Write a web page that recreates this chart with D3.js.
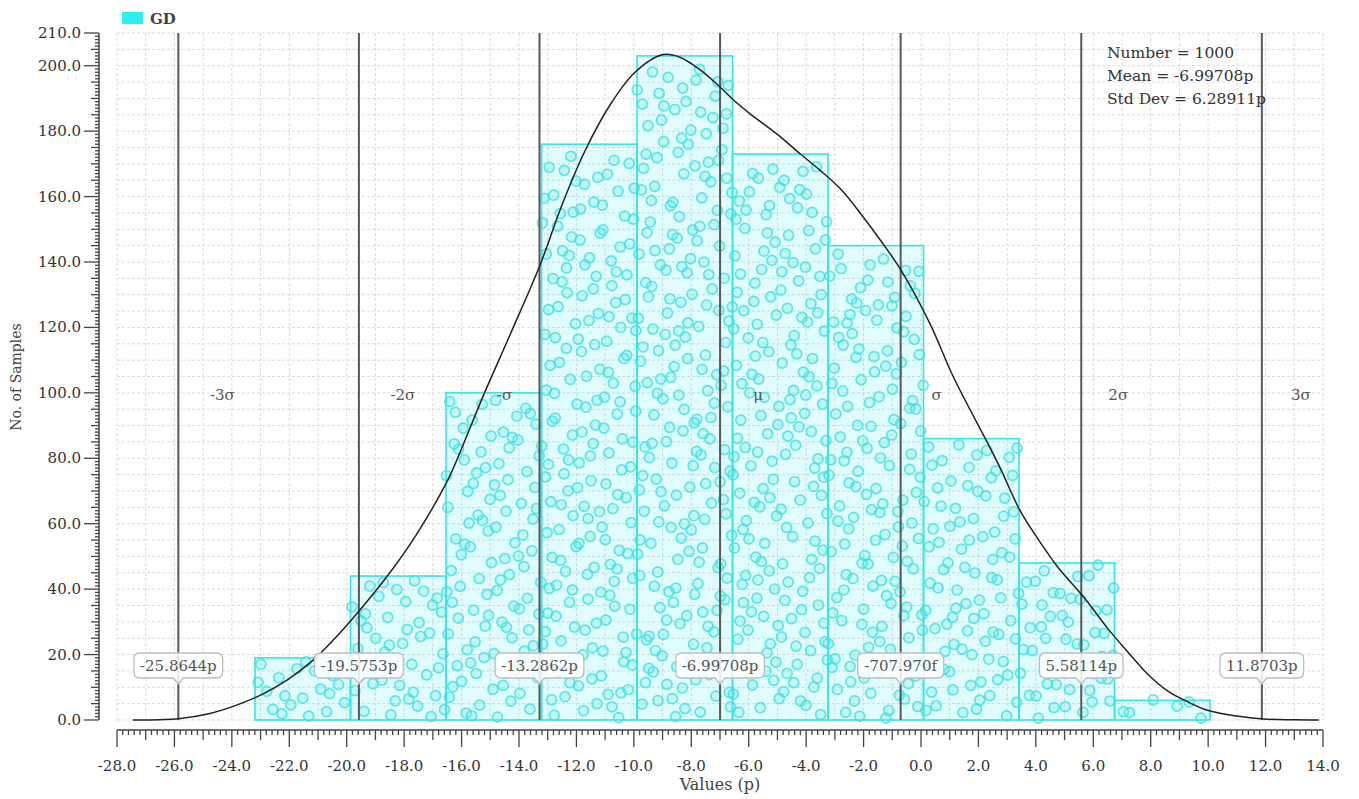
<!DOCTYPE html>
<html><head><meta charset="utf-8">
<script src="https://cdn.jsdelivr.net/npm/d3@7"></script>
<style>
body{margin:0;background:#fff}
svg{display:block}
text{font-family:"DejaVu Serif",serif}
</style>
</head><body>
<svg id="chart" width="1359" height="799"></svg>
<script>
// ---------- data ----------
const seriesName = "GD";
const binEdges = [-23.194, -19.868, -16.542, -13.216, -9.890, -6.564, -3.238, 0.088, 3.414, 6.740, 10.066];
const binCounts = [19, 44, 100, 176, 203, 173, 145, 86, 48, 6];
const curveX = [-27.45,-26.5,-25.86,-24.76,-24,-23,-22.08,-21.17,-20.3,-19.54,-18.5,-17.55,-16.5,-15.95,-15.25,-14.3,-13.27,-12.5,-11.7,-10.83,-9.96,-8.98,-8.4,-7.7,-7.0,-6.5,-5.95,-5.0,-4.2,-3.51,-2.8,-2.12,-1.4,-0.66,0.32,1.12,2.3,2.76,3.45,4.1,4.74,5.72,6.5,7.18,7.9,8.57,9.3,9.97,11,11.92,13,13.85];
const curveY = [0,0.1,0.4,2,4,7.6,12.2,18.3,26,33.6,45,57,73,84,99,118,139,157.5,174,188,198,203.4,202.6,198.8,193.5,189.3,185.3,179,173,168,162.3,155,146.5,137,121,105,85,77,64,55,47,37,28,21,14,9,5.5,3,1.2,0.3,0.05,0];
const markerValues = [-25.8644, -19.5753, -13.2862, -6.99708, -0.70797, 5.58114, 11.8703];
const markerLabels = ["-25.8644p", "-19.5753p", "-13.2862p", "-6.99708p", "-707.970f", "5.58114p", "11.8703p"];
const sigmaLabels = ["-3\u03c3", "-2\u03c3", "-\u03c3", "\u03bc", "\u03c3", "2\u03c3", "3\u03c3"];
const xTickValues = [-28,-26,-24,-22,-20,-18,-16,-14,-12,-10,-8,-6,-4,-2,0,2,4,6,8,10,12,14];
const yTickValues = [0,20,40,60,80,100,120,140,160,180,200,210];
const statsLines = ["Number = 1000", "Mean = -6.99708p", "Std Dev = 6.28911p"];
const xTitle = "Values (p)";
const yTitle = "No. of Samples";

// ---------- layout ----------
const svg = d3.select("#chart");
const X0 = 117, X1 = 1323, Y0 = 720, Y1 = 33;
const x = d3.scaleLinear().domain([-28, 14]).range([X0, X1]);
const y = d3.scaleLinear().domain([0, 210]).range([Y0, Y1]);
const fmt = v => v.toFixed(1);

// grid
const grid = svg.append("g").attr("stroke", "#dcdcdc").attr("stroke-width", 1).attr("stroke-dasharray", "3,2");
d3.range(-28, 14.001, 1).forEach(v => {
  grid.append("line").attr("x1", x(v)).attr("x2", x(v)).attr("y1", Y1).attr("y2", Y0);
});
d3.range(0, 210.001, 5).forEach(v => {
  grid.append("line").attr("x1", X0).attr("x2", X1).attr("y1", y(v)).attr("y2", y(v));
});

// bars
const bins = binCounts.map((c, i) => ({x0: binEdges[i], x1: binEdges[i + 1], c}));
svg.append("g").selectAll("rect").data(bins).join("rect")
  .attr("x", d => x(d.x0)).attr("width", d => x(d.x1) - x(d.x0))
  .attr("y", d => y(d.c)).attr("height", d => y(0) - y(d.c))
  .attr("fill", "rgba(0,230,230,0.12)")
  .attr("stroke", "#38e4e4").attr("stroke-width", 1.6);

// sample dots (deterministic Halton placement inside each bin)
function halton(i, b) { let f = 1, r = 0; while (i > 0) { f /= b; r += f * (i % b); i = Math.floor(i / b); } return r; }
const dots = [];
let idx = 1;
bins.forEach(d => {
  for (let j = 0; j < d.c; j++, idx++) {
    const u = halton(idx, 2), w = halton(idx, 3);
    dots.push({vx: d.x0 + u * (d.x1 - d.x0), vy: w * d.c * 0.98 + 0.5});
  }
});
svg.append("g").selectAll("circle").data(dots).join("circle")
  .attr("cx", d => x(d.vx)).attr("cy", d => y(d.vy)).attr("r", 5)
  .attr("fill", "rgba(80,230,230,0.22)")
  .attr("stroke", "#3ee0e0").attr("stroke-width", 1.7).attr("stroke-opacity", 0.8);

// sigma lines
svg.append("g").selectAll("line").data(markerValues).join("line")
  .attr("x1", d => x(d)).attr("x2", d => x(d)).attr("y1", Y1).attr("y2", Y0)
  .attr("stroke", "#585858").attr("stroke-width", 2);

// sigma labels
const labelDx = [44, 44, -35, 38, 36, 37, 39];
svg.append("g").selectAll("text").data(sigmaLabels).join("text")
  .attr("x", (d, i) => x(markerValues[i]) + labelDx[i]).attr("y", 400)
  .attr("text-anchor", "middle").attr("font-size", 15).attr("fill", "#555").text(d => d);

// density curve
const curvePts = curveX.map((v, i) => [v, curveY[i]]);
svg.append("path").datum(curvePts)
  .attr("d", d3.line().x(d => x(d[0])).y(d => y(d[1])).curve(d3.curveCatmullRom.alpha(0.5)))
  .attr("fill", "none").attr("stroke", "#222").attr("stroke-width", 1.5);

// callouts
const cg = svg.append("g");
markerValues.forEach((v, i) => {
  const g = cg.append("g").attr("transform", `translate(${x(v)},0)`);
  const t = g.append("text").attr("x", 0).attr("y", 671).attr("text-anchor", "middle")
    .attr("font-size", 15).attr("fill", "#555").text(markerLabels[i]);
  const bb = t.node().getBBox();
  const w = bb.width + 12, h = 25, top = 653;
  const l = -w / 2, r = w / 2, b = top + h, rr = 6;
  const p = `M${l + rr},${top} H${r - rr} Q${r},${top} ${r},${top + rr} V${b - rr} Q${r},${b} ${r - rr},${b} H5 L0,${b + 6} L-5,${b} H${l + rr} Q${l},${b} ${l},${b - rr} V${top + rr} Q${l},${top} ${l + rr},${top} Z`;
  g.insert("path", "text").attr("d", p).attr("fill", "rgba(255,255,255,0.85)")
    .attr("stroke", "#bdbdbd").attr("stroke-width", 1.3);
});

// x axis
const xa = svg.append("g").attr("stroke", "#444");
xa.append("line").attr("x1", X0).attr("x2", X1).attr("y1", 730).attr("y2", 730).attr("stroke-width", 1.5);
d3.range(0, 210.5, 1).forEach(k => {
  const v = -28 + k * 0.2;
  const len = k % 10 === 0 ? 17 : (k % 5 === 0 ? 10 : 5);
  xa.append("line").attr("x1", x(v)).attr("x2", x(v)).attr("y1", 730).attr("y2", 730 + len).attr("stroke-width", 1.3);
});
svg.append("g").selectAll("text").data(xTickValues).join("text")
  .attr("x", d => x(d)).attr("y", 771).attr("text-anchor", "middle")
  .attr("font-size", 15).attr("fill", "#333").text(d => fmt(d));
svg.append("text").attr("x", x(-7)).attr("y", 790).attr("text-anchor", "middle")
  .attr("font-size", 16).attr("fill", "#444").text(xTitle);

// y axis
const ya = svg.append("g").attr("stroke", "#444");
ya.append("line").attr("x1", 99).attr("x2", 99).attr("y1", y(210)).attr("y2", y(0)).attr("stroke-width", 1.5);
d3.range(0, 210.5, 1).forEach(v => {
  const len = (v % 20 === 0 || v === 210) ? 15 : (v % 5 === 0 ? 8 : 4);
  ya.append("line").attr("x1", 99 - len).attr("x2", 99).attr("y1", y(v)).attr("y2", y(v)).attr("stroke-width", 1.3);
});
svg.append("g").selectAll("text").data(yTickValues).join("text")
  .attr("x", 81).attr("y", d => y(d) + 5).attr("text-anchor", "end")
  .attr("font-size", 15).attr("fill", "#333").text(d => fmt(d));
svg.append("text").attr("transform", "translate(21,377) rotate(-90)").attr("text-anchor", "middle")
  .attr("font-size", 14).attr("fill", "#444").text(yTitle);

// legend
svg.append("rect").attr("x", 122).attr("y", 12).attr("width", 21).attr("height", 12).attr("fill", "#30eeee");
svg.append("text").attr("x", 150).attr("y", 24).attr("font-size", 15).attr("font-weight", "bold")
  .attr("fill", "#444").text(seriesName);

// stats
svg.append("g").selectAll("text").data(statsLines).join("text")
  .attr("x", 1107).attr("y", (d, i) => 58 + i * 23)
  .attr("font-size", 15.5).attr("fill", "#333").text(d => d);
</script>
</body></html>
